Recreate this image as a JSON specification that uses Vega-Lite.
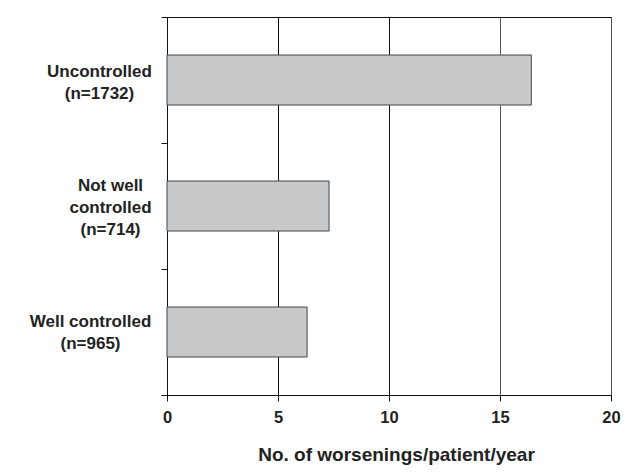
{
  "$schema": "https://vega.github.io/schema/vega-lite/v6.json",
  "width": 444,
  "height": 378,
  "autosize": {"type": "none"},
  "padding": {"left": 167, "top": 17, "right": 30, "bottom": 79},
  "background": "white",
  "config": {
    "view": {"stroke": "#111", "strokeWidth": 1},
    "font": "Liberation Sans"
  },
  "data": {
    "values": [
      {"group": "Uncontrolled", "rate": 16.41},
      {"group": "Not well controlled", "rate": 7.3},
      {"group": "Well controlled", "rate": 6.31}
    ]
  },
  "mark": {"type": "bar", "size": 50, "fill": "#c8c9cb", "stroke": "#444", "strokeWidth": 1},
  "encoding": {
    "y": {
      "field": "group",
      "type": "nominal",
      "sort": ["Uncontrolled", "Not well controlled", "Well controlled"],
      "scale": {"paddingInner": 0, "paddingOuter": 0},
      "axis": {
        "title": null,
        "tickBand": "extent",
        "tickSize": 6,
        "tickColor": "#111",
        "domainColor": "#111",
        "labelExpr": "datum.value == 'Uncontrolled' ? ['Uncontrolled', '(n=1732)'] : datum.value == 'Not well controlled' ? ['Not well', 'controlled', '(n=714)'] : datum.value == 'Well controlled' ? ['Well controlled', '(n=965)'] : ''",
        "labelAlign": "center",
        "labelBaseline": "middle",
        "labelPadding": {"condition": [
          {"test": "datum.value == 'Uncontrolled'", "value": 62},
          {"test": "datum.value == 'Not well controlled'", "value": 51}
        ], "value": 71},
        "labelOffset": {"condition": [
          {"test": "datum.value == 'Uncontrolled'", "value": -9},
          {"test": "datum.value == 'Not well controlled'", "value": -21}
        ], "value": -11},
        "labelFontSize": 17,
        "labelFontWeight": "bold",
        "labelColor": "#222",
        "labelLineHeight": 22,
        "labelLimit": 300
      }
    },
    "x": {
      "field": "rate",
      "type": "quantitative",
      "scale": {"domain": [0, 20], "nice": false},
      "axis": {
        "title": "No. of worsenings/patient/year",
        "values": [0, 5, 10, 15, 20],
        "grid": true,
        "gridColor": {"condition": {"test": "datum.value >= 15", "value": "#555"}, "value": "#111"},
        "gridOpacity": 1,
        "tickSize": 6,
        "tickColor": "#111",
        "domainColor": "#111",
        "labelFlush": false,
        "labelFontSize": 16.5,
        "labelFontWeight": "bold",
        "labelColor": "#222",
        "labelPadding": 8,
        "titleFontSize": 19,
        "titleFontWeight": "bold",
        "titleColor": "#222",
        "titlePadding": 20,
        "titleX": 229
      }
    }
  }
}
